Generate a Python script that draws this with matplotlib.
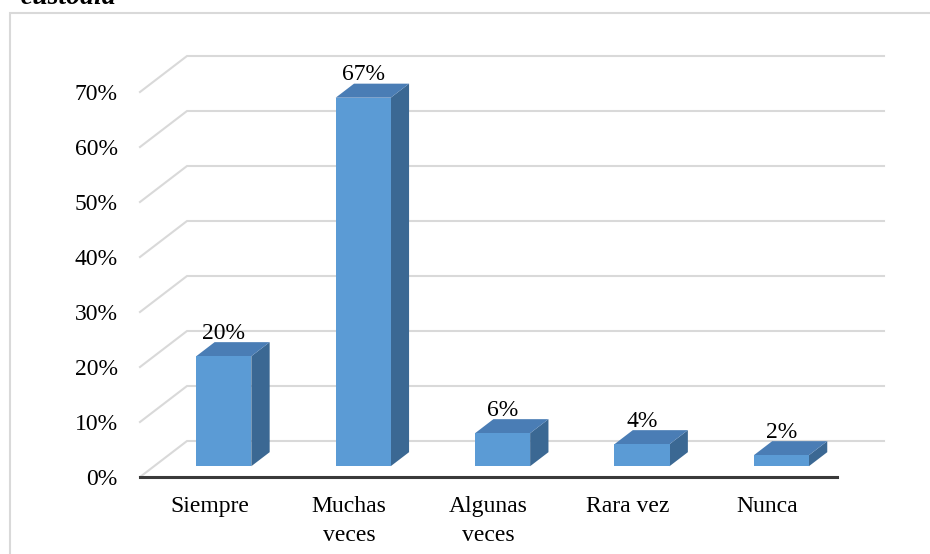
import numpy as np
import matplotlib
matplotlib.use("Agg")
import matplotlib.pyplot as plt
from matplotlib.patches import Polygon, Rectangle

# datos del gráfico
categorias = ["Siempre", "Muchas\nveces", "Algunas\nveces", "Rara vez", "Nunca"]
valores = [20, 67, 6, 4, 2]
etiquetas = ["20%", "67%", "6%", "4%", "2%"]
ticks_y = [0, 10, 20, 30, 40, 50, 60, 70]

plt.rcParams["font.family"] = ["Liberation Serif", "DejaVu Serif"]

W, H = 930, 554
fig = plt.figure(figsize=(W / 100, H / 100), dpi=100)

# marco gris del área del gráfico
fig.patches.append(Rectangle((10 / W, -0.1), 1.2, 1.1 - 13 / H, transform=fig.transFigure,
                             fill=False, edgecolor="#D9D9D9", linewidth=1.5))
# título recortado en la parte superior
fig.text(21 / W, 1 - 4 / H, "custodia", fontsize=20, fontweight="bold",
         fontstyle="italic", va="baseline", ha="left")

# plano frontal: 0%..70% y las 5 categorías
ax = fig.add_axes([140 / W, (H - 477) / H, (837 - 140) / W, (477 - 92) / H])
n = len(categorias)
ax.set_xlim(-0.5, n - 0.5)
ax.set_ylim(0, 70)
for s in ax.spines.values():
    s.set_visible(False)

# profundidad oblicua (en unidades de datos)
DX = 47 / 139.4
DY = 36 / 5.5
x0, x1 = -0.5, n - 0.5

# rejilla en la pared del fondo
for t in ticks_y:
    ax.plot([x0, x0 + DX, x1 + DX], [t, t + DY, t + DY], color="#D9D9D9",
            lw=1.5, clip_on=False, zorder=1)

# línea del eje frontal
ax.plot([x0, x1], [0, 0], color="#3A3A3A", lw=2.2, clip_on=False, zorder=2)

# barras 3D
w = 0.395
f0, f1 = 0.30, 0.69
c_front, c_top, c_side = "#5B9BD5", "#4A7DB5", "#3B6893"
for i, v in enumerate(valores):
    xl = i - w / 2 + f0 * DX
    xr = i + w / 2 + f0 * DX
    yb = f0 * DY
    yt = v + f0 * DY
    ddx = (f1 - f0) * DX
    ddy = (f1 - f0) * DY
    side = [(xr, yb), (xr + ddx, yb + ddy), (xr + ddx, yt + ddy), (xr, yt)]
    top = [(xl, yt), (xr, yt), (xr + ddx, yt + ddy), (xl + ddx, yt + ddy)]
    front = [(xl, yb), (xr, yb), (xr, yt), (xl, yt)]
    ax.add_patch(Polygon(side, closed=True, facecolor=c_side, edgecolor="none",
                         clip_on=False, zorder=3))
    ax.add_patch(Polygon(top, closed=True, facecolor=c_top, edgecolor="none",
                         clip_on=False, zorder=3))
    ax.add_patch(Polygon(front, closed=True, facecolor=c_front, edgecolor="none",
                         clip_on=False, zorder=4))
    ax.text(i + f0 * DX, v + f1 * DY + 0.6, etiquetas[i], ha="center",
            va="baseline", fontsize=17, zorder=5)

ax.set_yticks(ticks_y)
ax.set_yticklabels([f"{t}%" for t in ticks_y], fontsize=17)
ax.set_xticks(range(n))
ax.set_xticklabels(categorias, fontsize=17, linespacing=1.45)
ax.tick_params(axis="y", length=0, pad=16)
ax.tick_params(axis="x", length=0, pad=14)

fig.savefig("out.png", dpi=100)
